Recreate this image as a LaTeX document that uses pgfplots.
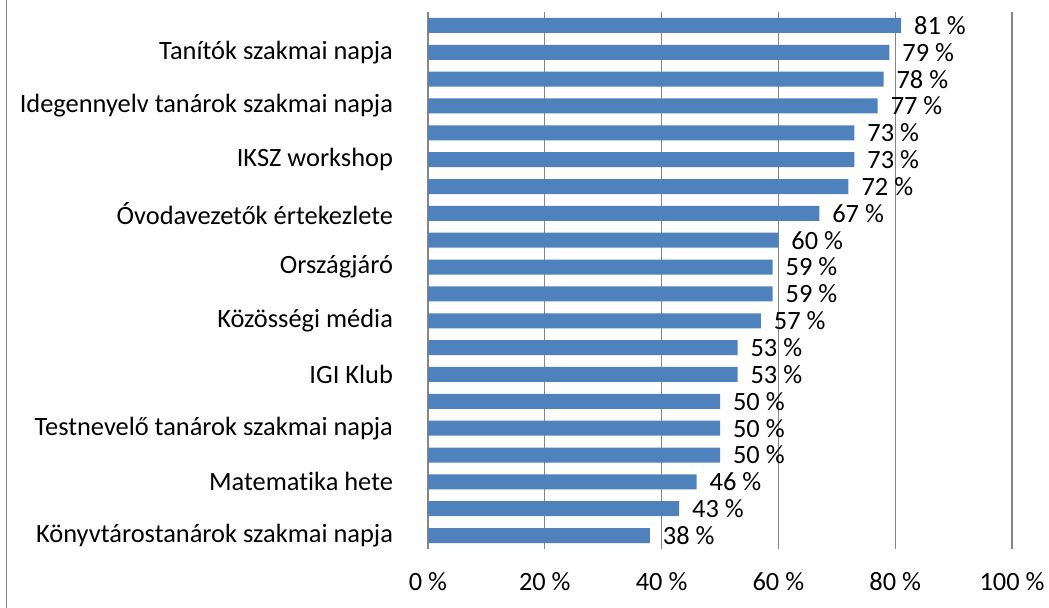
\documentclass[border=0pt]{standalone}
\usepackage{fontspec}
\setmainfont{Carlito}[Ligatures={NoCommon}]
\usepackage{pgfplots}
\pgfplotsset{compat=1.18}
\definecolor{barblue}{HTML}{4F81BD}
\definecolor{gridgray}{HTML}{868686}

\begin{document}
\begin{tikzpicture}
\begin{axis}[
  xbar,
  width=292pt, height=268.5pt, scale only axis,
  xmin=0, xmax=100, ymin=-0.5, ymax=19.5, y dir=reverse,
  bar width=7.5pt,
  xtick={0,20,...,100},
  xticklabel={\pgfmathprintnumber{\tick}~\%},
  ytick={1,3,...,19},
  yticklabels={Tanítók szakmai napja, Idegennyelv tanárok szakmai napja, IKSZ workshop, Óvodavezetők értekezlete, Országjáró, Közösségi média, IGI Klub, Testnevelő tanárok szakmai napja, Matematika hete, Könyvtárostanárok szakmai napja},
  xmajorgrids, grid style={gridgray, line width=0.6pt},
  axis line style={draw=none},
  major tick length=0pt,
  tick label style={font=\fontsize{13.2}{15}\selectfont, text=black},
  /pgf/number format/assume math mode=true,
  xticklabel style={yshift=-8pt},
  yticklabel style={xshift=-14pt},
  point meta=x,
  nodes near coords={\pgfmathprintnumber{\pgfplotspointmeta}~\%},
  nodes near coords style={font=\fontsize{13.2}{15}\selectfont, text=black, anchor=west, xshift=3pt},
  clip=false,
]
\addplot[fill=barblue, draw=none] coordinates {
  (81,0) (79,1) (78,2) (77,3) (73,4) (73,5) (72,6) (67,7) (60,8) (59,9)
  (59,10) (57,11) (53,12) (53,13) (50,14) (50,15) (50,16) (46,17) (43,18) (38,19)
};
% outer chart frame edge and picture extent
\draw[gridgray, line width=0.6pt] (rel axis cs:-0.7217,1.0224) -- (rel axis cs:-0.7217,-0.1099);
\coordinate (bl) at (rel axis cs:-0.7329,-0.10987);
\coordinate (tr) at (rel axis cs:1.06336,1.02235);
\end{axis}
\pgfresetboundingbox
\path[use as bounding box] (bl) rectangle (tr);
\end{tikzpicture}
\end{document}
